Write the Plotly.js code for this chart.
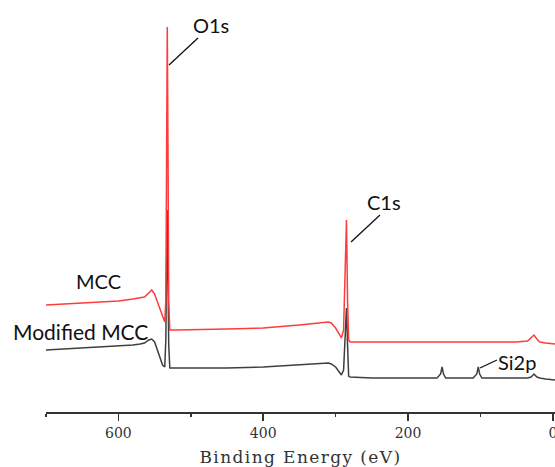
<!DOCTYPE html>
<html>
<head>
<meta charset="utf-8">
<script src="https://cdn.plot.ly/plotly-3.0.1.min.js"></script>
<style>
html,body{margin:0;padding:0;background:#fff;}
#chart{width:555px;height:467px;}
.g-xtitle text{letter-spacing:1.4px;}
</style>
</head>
<body>
<div id="chart"></div>
<script>
// Binding energy (eV)
var energy = [700, 650, 600, 580, 570, 564, 558, 554, 550, 546, 542, 539, 536, 534.5, 533.5, 532.5, 531.5, 530.5, 529, 520, 450, 400, 350, 320, 310, 306, 300, 295, 292, 289, 287, 285, 283.5, 282, 280, 250, 200, 160, 155, 153, 151, 148, 110, 105, 103, 101, 98, 50, 35, 30, 26, 22, 18, 10, 0, -3];
// Intensity (a.u., offset stacked)
var mcc = [107, 109, 111, 113, 114, 115, 119, 122, 118, 110, 101, 95, 90, 112, 262, 385, 262, 112, 82, 82, 83, 84, 87, 89, 90, 89, 84, 78, 74, 82, 132, 192, 112, 72, 70, 70, 70, 70, 70, 70, 70, 70, 70, 70, 70, 70, 70, 70, 71, 74, 77, 73, 70, 69, 68, 68];
var modifiedMcc = [62, 64, 66, 67, 68, 69, 72, 73, 70, 62, 52, 47, 45, 72, 142, 202, 132, 67, 44, 44, 44, 45, 47, 48, 49, 48, 45, 40, 37, 42, 72, 104, 67, 36, 35, 34, 34, 34, 38, 45, 38, 34, 34, 38, 45, 38, 34, 34, 34, 35, 38, 35, 34, 33, 32, 32];
var seriesNames = ["MCC", "Modified MCC"];
var peakLabels = ["O1s", "C1s", "Si2p"];
var tickValues = [0, 200, 400, 600];

var traces = [
  {x: energy, y: modifiedMcc, name: seriesNames[1], type: "scatter", mode: "lines",
   line: {color: "#3f3f3f", width: 1.5}},
  {x: energy, y: mcc, name: seriesNames[0], type: "scatter", mode: "lines",
   line: {color: "#ff3b3b", width: 1.5}}
];

var labFont = {family: "Lato, 'Open Sans', sans-serif", size: 20, color: "#111"};
var layout = {
  width: 555, height: 467,
  margin: {l: 46, r: 0, t: 0, b: 55},
  paper_bgcolor: "#fff", plot_bgcolor: "#fff",
  showlegend: false,
  xaxis: {
    range: [700, -3], showgrid: false, zeroline: false,
    showline: true, linecolor: "#333", linewidth: 2,
    ticks: "outside", ticklen: 7, tickwidth: 1.5, tickcolor: "#333",
    tickvals: tickValues, ticktext: tickValues.map(String),
    ticklabeloverflow: "allow",
    tickfont: {family: "'DejaVu Serif', 'Liberation Serif', serif", size: 14, color: "#333"},
    minor: {dtick: 100, tick0: 0, ticks: "outside", ticklen: 3, tickwidth: 1.5, tickcolor: "#333"},
    title: {text: "Binding Energy (eV)", standoff: 15,
            font: {family: "'DejaVu Serif', 'Liberation Serif', serif", size: 17, color: "#333"}}
  },
  yaxis: {range: [0, 412], visible: false, fixedrange: true},
  shapes: [
    {type: "line", xref: "x", yref: "y", x0: 490.1, y0: 374, x1: 530.1, y1: 347, line: {color: "#111", width: 1.3}},
    {type: "line", xref: "x", yref: "y", x0: 238.7, y0: 197, x1: 278.7, y1: 170, line: {color: "#111", width: 1.3}},
    {type: "line", xref: "x", yref: "y", x0: 77.1, y0: 52, x1: 100.6, y1: 44, line: {color: "#111", width: 1.3}}
  ],
  annotations: [
    {x: 472, y: 387, xref: "x", yref: "y", text: peakLabels[0], showarrow: false, font: labFont},
    {x: 233, y: 210, xref: "x", yref: "y", text: peakLabels[1], showarrow: false, font: labFont},
    {x: 49, y: 50, xref: "x", yref: "y", text: peakLabels[2], showarrow: false, font: labFont},
    {x: 627, y: 131, xref: "x", yref: "y", text: seriesNames[0], showarrow: false, font: labFont},
    {x: 652, y: 81, xref: "x", yref: "y", text: seriesNames[1], showarrow: false,
     font: {family: labFont.family, size: 21, color: "#111"}}
  ]
};
Plotly.newPlot("chart", traces, layout, {displayModeBar: false, staticPlot: true});
</script>
</body>
</html>
